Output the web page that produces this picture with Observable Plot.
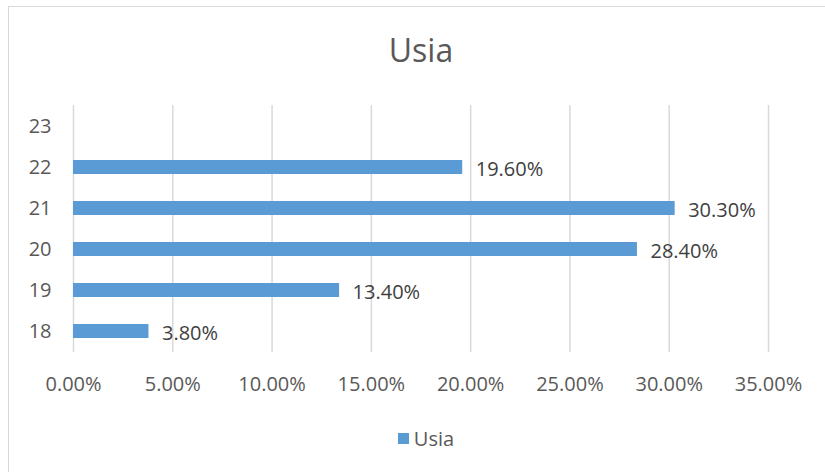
<!DOCTYPE html>
<html>
<head>
<meta charset="utf-8">
<script src="https://cdn.jsdelivr.net/npm/d3@7"></script>
<script src="https://cdn.jsdelivr.net/npm/@observablehq/plot@0.6"></script>
<style>
  html, body { margin: 0; padding: 0; background: #fff; }
  #wrap { position: relative; width: 825px; height: 472px; overflow: hidden; font-family: "Open Sans", sans-serif; }
  #frame { position: absolute; left: 8px; top: 6px; width: 900px; height: 600px; border: 1.5px solid #d9d9d9; pointer-events: none; }
  #title { height: 100px; line-height: 100px; text-align: center; padding-left: 17px; font-size: 32px; color: #595959; }
  #legend { display: flex; justify-content: center; align-items: center; margin-top: 28px; padding-left: 27px; height: 20px; font-size: 20px; color: #595959; }
  #legend .sw { width: 11px; height: 11px; background: #5B9BD5; margin-right: 5px; }
</style>
</head>
<body>
<div id="wrap">
  <div id="frame"></div>
  <div id="title">Usia</div>
  <div id="chart"></div>
  <div id="legend"><span class="sw"></span><span>Usia</span></div>
</div>
<script>
const ages = ["18", "19", "20", "21", "22", "23"];
const values = [3.8, 13.4, 28.4, 30.3, 19.6, null];
const xTicks = [0, 5, 10, 15, 20, 25, 30, 35];

const data = ages.map((a, i) => ({age: a, value: values[i]}));
const fmt = d => d.toFixed(2) + "%";

const chart = Plot.plot({
  width: 825,
  height: 300,
  marginTop: 5,
  marginBottom: 48,
  marginLeft: 73,
  marginRight: 57,
  style: {fontFamily: "'Open Sans', sans-serif", fontSize: "20px", color: "#595959", background: "transparent", overflow: "visible"},
  x: {domain: [0, 35], ticks: xTicks, tickFormat: fmt},
  y: {domain: ages.slice().reverse(), padding: 0.65, paddingOuter: 0.325},
  marks: [
    Plot.gridX(xTicks, {stroke: "#d9d9d9", strokeOpacity: 1, strokeWidth: 1.5}),
    Plot.axisX({ticks: xTicks, tickFormat: fmt, tickSize: 0, tickPadding: 24, label: null, fill: "#595959", fontSize: 20}),
    Plot.axisY({tickSize: 0, tickPadding: 22, label: null, fill: "#595959", fontSize: 20}),
    Plot.barX(data.filter(d => d.value != null), {x: "value", y: "age", fill: "#5B9BD5"}),
    Plot.text(data.filter(d => d.value != null), {x: "value", y: "age", text: d => fmt(d.value), textAnchor: "start", dx: 13, dy: 2, fill: "#404040", fontSize: 20})
  ]
});
document.getElementById("chart").appendChild(chart);
</script>
</body>
</html>
